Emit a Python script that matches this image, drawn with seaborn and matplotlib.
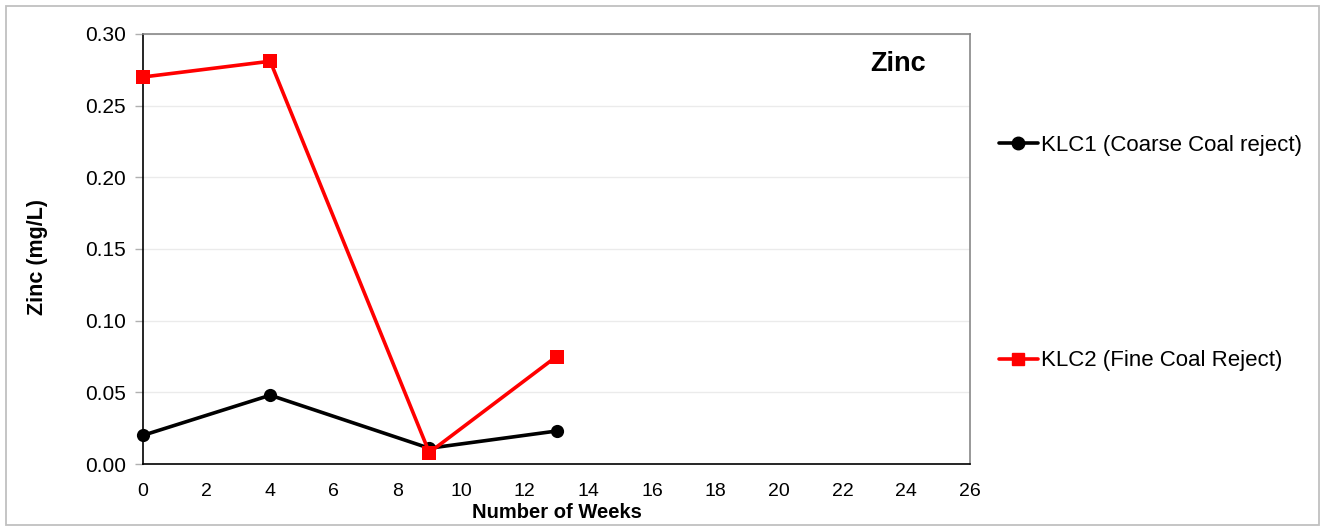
import numpy as np
import pandas as pd
import matplotlib
matplotlib.use("Agg")
import matplotlib.pyplot as plt
import seaborn as sns
from matplotlib.patches import Rectangle

weeks = [0, 4, 9, 13]
klc1 = [0.020, 0.048, 0.011, 0.023]
klc2 = [0.270, 0.281, 0.008, 0.075]
series_names = ["KLC1 (Coarse Coal reject)", "KLC2 (Fine Coal Reject)"]
x_ticks = list(range(0, 27, 2))
y_ticks = [0.00, 0.05, 0.10, 0.15, 0.20, 0.25, 0.30]

sns.set_theme(style="white")
plt.rcParams["font.family"] = ["Liberation Sans", "DejaVu Sans"]
plt.rcParams["text.color"] = "black"
plt.rcParams["axes.labelcolor"] = "black"

df = pd.DataFrame({
    "week": weeks * 2,
    "zinc": klc1 + klc2,
    "series": [series_names[0]] * len(weeks) + [series_names[1]] * len(weeks),
})

fig = plt.figure(figsize=(13.23, 5.26), dpi=100)
ax = fig.add_axes([143 / 1323, 1 - 464 / 526, (970 - 143) / 1323, (464 - 34) / 526])

sns.lineplot(data=df, x="week", y="zinc", hue="series", style="series",
             palette={series_names[0]: "#000000", series_names[1]: "#ff0000"},
             markers={series_names[0]: "o", series_names[1]: "s"},
             dashes=False, markersize=9.5, linewidth=2.6, markeredgewidth=0,
             ax=ax, legend=False, zorder=3, clip_on=False)

ax.set_xlim(0, 26)
ax.set_ylim(0, 0.30)
ax.set_xticks(x_ticks)
ax.set_yticks(y_ticks)
ax.set_yticklabels([f"{v:.2f}" for v in y_ticks])
ax.tick_params(axis="x", length=0, labelsize=14, pad=14, labelcolor="black")
ax.tick_params(axis="y", length=6, width=1, direction="out", labelsize=15,
               pad=6.5, color="#b0b0b0", labelcolor="black", left=True)
ax.yaxis.grid(True, color="#ebebeb", linewidth=1)
ax.xaxis.grid(False)
ax.set_axisbelow(True)

for side in ("left", "bottom"):
    ax.spines[side].set_color("black")
    ax.spines[side].set_linewidth(1.2)
for side in ("top", "right"):
    ax.spines[side].set_color("#888888")
    ax.spines[side].set_linewidth(1.2)

ax.set_xlabel("Number of Weeks", fontsize=14.5, fontweight="bold", labelpad=2)
ax.set_ylabel("Zinc (mg/L)", fontsize=15.5, fontweight="bold")
ax.yaxis.set_label_coords(-0.1145, 1 - (257 - 34) / 430)
ax.text(0.9135, 0.93, "Zinc", transform=ax.transAxes, fontsize=19.5,
        fontweight="bold", ha="center", va="center")

handles = [
    plt.Line2D([], [], color="black", marker="o", markersize=9, linewidth=2.6),
    plt.Line2D([], [], color="#ff0000", marker="s", markersize=9, linewidth=2.6),
]
fig.legend(handles, series_names, loc="upper left",
           bbox_to_anchor=(999 / 1323, 1 - 135 / 526), frameon=False,
           fontsize=16, handlelength=1.75, handletextpad=0.12,
           labelspacing=8.75, borderaxespad=0, borderpad=0)

fig.patches.append(Rectangle((5.5 / 1323, 1 - 525 / 526), 1313 / 1323, 519 / 526,
                             transform=fig.transFigure, fill=False,
                             edgecolor="#c0c0c0", linewidth=1.3))

fig.savefig("out.png", dpi=100)
